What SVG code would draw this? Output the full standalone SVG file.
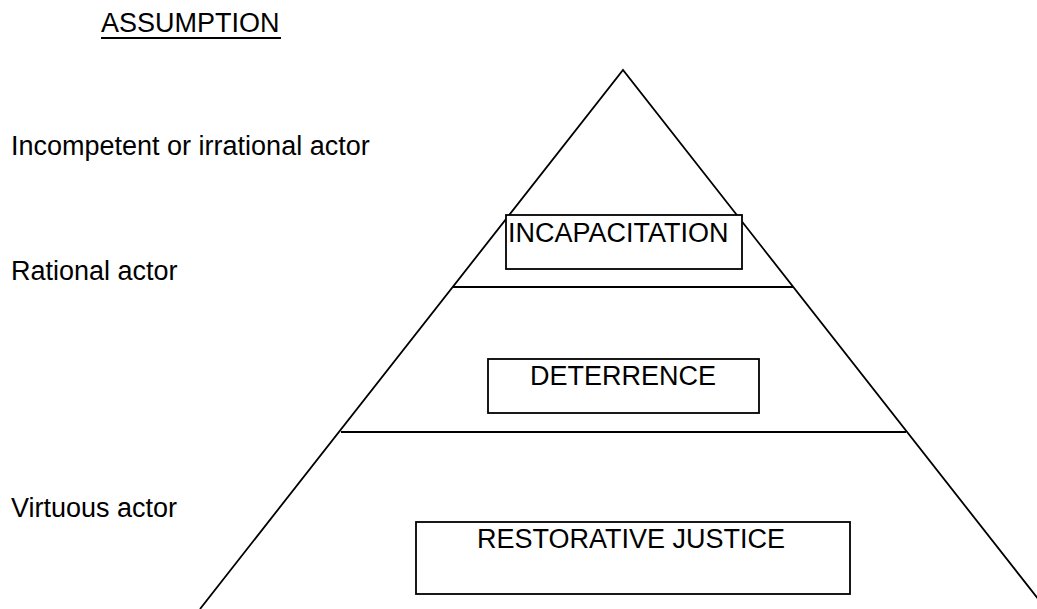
<svg xmlns="http://www.w3.org/2000/svg" width="1037" height="609" viewBox="0 0 1037 609">
<style>
text{font-family:"Liberation Sans",Arial,sans-serif;font-size:27px;fill:#000}
.ln{stroke:#000;stroke-width:1.8;fill:none}
.box{stroke:#000;stroke-width:1.8;fill:#fff}
</style>
<rect width="1037" height="609" fill="#fff"/>
<g id="heading">
<text x="101" y="32">ASSUMPTION</text>
<line x1="101" y1="38" x2="281" y2="38" stroke="#000" stroke-width="2"/>
</g>
<g id="labels">
<text x="11" y="155">Incompetent or irrational actor</text>
<text x="11" y="280">Rational actor</text>
<text x="11" y="517">Virtuous actor</text>
</g>
<g id="pyramid">
<polyline class="ln" points="200,609 623,70 1046,609"/>
<line class="ln" x1="453" y1="287" x2="793" y2="287"/>
<line class="ln" x1="341" y1="432" x2="906" y2="432"/>
</g>
<g id="incapacitation">
<rect class="box" x="506" y="215" width="236" height="54"/>
<text x="508" y="242">INCAPACITATION</text>
</g>
<g id="deterrence">
<rect class="box" x="488" y="359" width="271" height="54"/>
<text x="530" y="385">DETERRENCE</text>
</g>
<g id="restorative">
<rect class="box" x="416" y="522" width="434" height="72"/>
<text x="477" y="548">RESTORATIVE JUSTICE</text>
</g>
<g id="connectors"></g>
</svg>
